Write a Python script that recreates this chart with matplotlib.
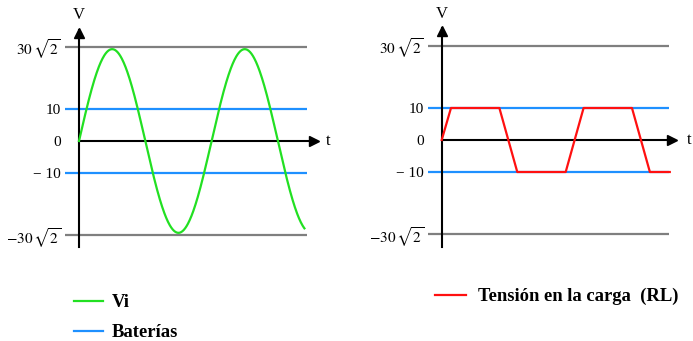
import numpy as np
import matplotlib
matplotlib.use("Agg")
import matplotlib.pyplot as plt
from matplotlib.lines import Line2D

plt.rcParams['font.family'] = ['Liberation Serif', 'DejaVu Serif']
plt.rcParams['mathtext.fontset'] = 'stix'

# data (time in ms, voltage in V)
period = 20.0
vi_amp = 28.7
ref_level = 29.5          # labelled 30*sqrt(2) on the original
bat_level = 10
vi_t_end = 34.0
line_end = [34.4, 34.3]   # left / right panel

rl_t = [0, 1.4, 8.7, 11.4, 18.7, 21.4, 28.7, 31.4, 34.4]
rl_v = [0, 10, 10, -10, -10, 10, 10, -10, -10]

tick_vals = [ref_level, bat_level, 0, -bat_level, -ref_level]
tick_labels = [r'$30\,\sqrt{2}$', '10', '0', '\u2212 10', r'$-30\,\sqrt{2}$']

green = '#22E022'
blue = '#1E90FF'
red = '#FF1010'
gray = '#7F7F7F'

W, H = 693, 341
fig = plt.figure(figsize=(W / 100, H / 100), dpi=100)

px_ms = 6.63   # pixels per ms
px_v = 3.2     # pixels per volt


def make_axes(x0, t0_px, zero_px, right_px=None):
    # x0: left edge (px), t0_px: y-axis position, zero_px: zero line (px from top)
    top, bottom = 20, 255
    right = right_px if right_px else x0 + 265
    ax = fig.add_axes([x0 / W, (H - bottom) / H, (right - x0) / W, (bottom - top) / H])
    ax.set_xlim(-(t0_px - x0) / px_ms, (right - t0_px) / px_ms)
    ax.set_ylim(-(bottom - zero_px) / px_v, (zero_px - top) / px_v)
    for s in ax.spines.values():
        s.set_visible(False)
    ax.set_xticks([])
    ax.set_yticks(tick_vals, tick_labels)
    ax.tick_params(axis='y', length=0, pad=3, labelsize=11)
    return ax


def draw_frame(ax, t_end, arrow_x, ax_top, ax_bot, t_lbl):
    x0 = ax.get_xlim()[0]
    ax.hlines([ref_level, -ref_level], x0, t_end, color=gray, lw=1.6)
    ax.hlines([bat_level, -bat_level], x0, t_end, color=blue, lw=1.6)
    # axes with arrows
    ax.plot([0, arrow_x + 0.5], [0, 0], color='black', lw=1.5, clip_on=False)
    ax.plot([0, 0], [ax_bot, ax_top + 1.0], color='black', lw=1.5, clip_on=False)
    ax.plot([arrow_x], [0], marker='>', ms=7, color='black', clip_on=False)
    ax.plot([0], [ax_top], marker='^', ms=7, color='black', clip_on=False)
    ax.text(0, 39.4, 'V', ha='center', va='center', fontsize=12)
    ax.text(t_lbl, 0, 't', ha='center', va='center', fontsize=12, clip_on=False)


# left panel: input voltage
ax1 = make_axes(65, 79, 141)
draw_frame(ax1, line_end[0], 35.4, 33.7, -33.1, 37.6)
t = np.linspace(0, vi_t_end, 500)
ax1.plot(t, vi_amp * np.sin(2 * np.pi * t / period), color=green, lw=1.6, zorder=3)

# right panel: load voltage
ax2 = make_axes(428, 441.7, 140, right_px=693)
draw_frame(ax2, line_end[1], 34.7, 34.0, -33.4, 37.4)
ax2.plot(rl_t, rl_v, color=red, lw=1.6, zorder=3)

bold = {'family': 'Liberation Serif', 'weight': 'bold', 'size': 13.4}
ax1.legend(handles=[Line2D([], [], color=green, lw=1.6), Line2D([], [], color=blue, lw=1.6)],
           labels=['Vi', 'Baterías'], loc='upper left',
           bbox_to_anchor=(74 / W, 1 - 294 / H), bbox_transform=fig.transFigure,
           frameon=False, prop=bold, handlelength=1.55, handletextpad=0.5,
           labelspacing=0.7, borderpad=0, borderaxespad=0)
ax2.legend(handles=[Line2D([], [], color=red, lw=1.6)],
           labels=['Tensión en la carga  (RL)'], loc='upper left',
           bbox_to_anchor=(435 / W, 1 - 288 / H), bbox_transform=fig.transFigure,
           frameon=False, prop=bold, handlelength=1.65, handletextpad=0.65,
           borderpad=0, borderaxespad=0)

fig.savefig('out.png', dpi=100)
